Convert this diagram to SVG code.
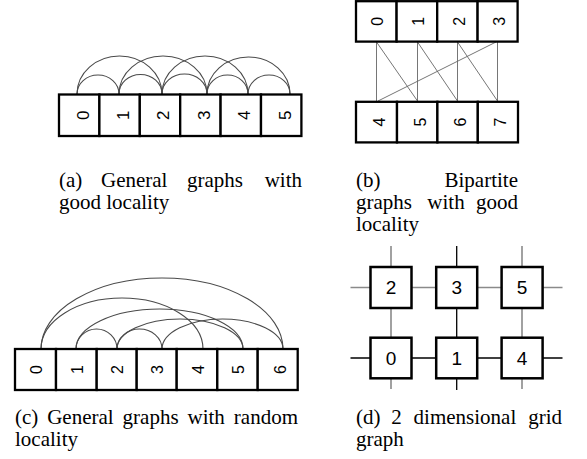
<svg xmlns="http://www.w3.org/2000/svg" width="587" height="459" viewBox="0 0 587 459">
<style>
.box{fill:#fff;stroke:#000;stroke-width:2.3}
.gbox{fill:#fff;stroke:#000;stroke-width:2.5}
.arc{fill:none;stroke:#4a4a4a;stroke-width:1.1}
.bl{fill:none;stroke:#666;stroke-width:0.9}
.gg{stroke:#8a8a8a;stroke-width:1.6}
.gk{stroke:#000;stroke-width:1.3}
.dig{font-family:"Liberation Sans",Arial,sans-serif;text-anchor:middle;fill:#000}
.cap{font-family:"Liberation Serif","Times New Roman",serif;font-size:21px;fill:#000}
</style>
<rect width="587" height="459" fill="#fff"/>

<!-- Panel (a) -->
<g id="edges-a">
<path class="arc" d="M77 94 A21 19 0 0 1 119 94"/>
<path class="arc" d="M119 94 A21.5 19.5 0 0 1 162 94"/>
<path class="arc" d="M162 94 A22.5 20 0 0 1 207 94"/>
<path class="arc" d="M207 94 A20.5 19 0 0 1 248 94"/>
<path class="arc" d="M248 94 A21 19 0 0 1 290 94"/>
<path class="arc" d="M77 94 A42.5 38 0 0 1 162 94"/>
<path class="arc" d="M119 94 A44 38 0 0 1 207 94"/>
<path class="arc" d="M162 94 A43 38 0 0 1 248 94"/>
<path class="arc" d="M207 94 A41.5 37 0 0 1 290 94"/>
</g>
<g id="a-nodes" style="font-size:17px">
<g id="a0"><rect class="box" x="59" y="94.5" width="40.4" height="41.5"/><text class="dig" transform="translate(82.5,115.2) rotate(-90)" y="6">0</text></g>
<g id="a1"><rect class="box" x="99.4" y="94.5" width="40.4" height="41.5"/><text class="dig" transform="translate(123,115.2) rotate(-90)" y="6">1</text></g>
<g id="a2"><rect class="box" x="139.8" y="94.5" width="40.4" height="41.5"/><text class="dig" transform="translate(163.4,115.2) rotate(-90)" y="6">2</text></g>
<g id="a3"><rect class="box" x="180.2" y="94.5" width="40.4" height="41.5"/><text class="dig" transform="translate(203.8,115.2) rotate(-90)" y="6">3</text></g>
<g id="a4"><rect class="box" x="220.6" y="94.5" width="40.4" height="41.5"/><text class="dig" transform="translate(244.2,115.2) rotate(-90)" y="6">4</text></g>
<g id="a5"><rect class="box" x="261" y="94.5" width="40.4" height="41.5"/><text class="dig" transform="translate(284.6,115.2) rotate(-90)" y="6">5</text></g>
</g>
<g id="cap-a" class="cap">
<text x="59" y="187">(a)</text>
<text x="101" y="187">General</text>
<text x="187" y="187">graphs</text>
<text x="302" y="187" text-anchor="end">with</text>
<text x="59" y="209">good locality</text>
</g>

<!-- Panel (b) -->
<g id="edges-b">
<line class="bl" x1="376.5" y1="42" x2="376.5" y2="101"/>
<line class="bl" x1="417.5" y1="42" x2="417.5" y2="101"/>
<line class="bl" x1="457.5" y1="42" x2="457.5" y2="101"/>
<line class="bl" x1="497.5" y1="42" x2="497.5" y2="101"/>
<line class="bl" x1="376.5" y1="42" x2="417.5" y2="101"/>
<line class="bl" x1="417.5" y1="42" x2="457.5" y2="101"/>
<line class="bl" x1="457.5" y1="42" x2="497.5" y2="101"/>
<line class="bl" x1="496" y1="42" x2="378" y2="101"/>
</g>
<g id="b-nodes" style="font-size:16px">
<g id="b0"><rect class="box" x="356" y="1.2" width="40.6" height="40.4"/><text class="dig" transform="translate(377.5,21.4) rotate(-90)" y="5.7">0</text></g>
<g id="b1"><rect class="box" x="396.6" y="1.2" width="40.6" height="40.4"/><text class="dig" transform="translate(418.5,21.4) rotate(-90)" y="5.7">1</text></g>
<g id="b2"><rect class="box" x="437.2" y="1.2" width="40.4" height="40.4"/><text class="dig" transform="translate(458.9,21.4) rotate(-90)" y="5.7">2</text></g>
<g id="b3"><rect class="box" x="477.6" y="1.2" width="40" height="40.4"/><text class="dig" transform="translate(499.2,21.4) rotate(-90)" y="5.7">3</text></g>
<g id="b4"><rect class="box" x="356" y="101.8" width="41" height="40.6"/><text class="dig" transform="translate(379,122.1) rotate(-90)" y="5.7">4</text></g>
<g id="b5"><rect class="box" x="397" y="101.8" width="40.4" height="40.6"/><text class="dig" transform="translate(419.8,122.1) rotate(-90)" y="5.7">5</text></g>
<g id="b6"><rect class="box" x="437.4" y="101.8" width="40.4" height="40.6"/><text class="dig" transform="translate(460,122.1) rotate(-90)" y="5.7">6</text></g>
<g id="b7"><rect class="box" x="477.8" y="101.8" width="40.2" height="40.6"/><text class="dig" transform="translate(500,122.1) rotate(-90)" y="5.7">7</text></g>
</g>
<g id="cap-b" class="cap">
<text x="356" y="187">(b)</text>
<text x="518" y="187" text-anchor="end">Bipartite</text>
<text x="356" y="209">graphs</text>
<text x="427.3" y="209">with</text>
<text x="518" y="209" text-anchor="end">good</text>
<text x="356" y="231">locality</text>
</g>

<!-- Panel (c) -->
<g id="edges-c">
<path class="arc" d="M41 349 A121 71 0 0 1 283 349"/>
<path class="arc" d="M41 349 A81 51 0 0 1 203 349"/>
<path class="arc" d="M76 349 A83.5 40 0 0 1 243 349"/>
<path class="arc" d="M117 349 A63 30 0 0 1 243 349"/>
<path class="arc" d="M162 349 A60.5 30 0 0 1 283 349"/>
<path class="arc" d="M76 349 A20.5 20 0 0 1 117 349"/>
<path class="arc" d="M117 349 A22.5 20 0 0 1 162 349"/>
</g>
<g id="c-nodes" style="font-size:16px">
<g id="c0"><rect class="box" x="15" y="349" width="41" height="41"/><text class="dig" transform="translate(36,369.5) rotate(-90)" y="5.7">0</text></g>
<g id="c1"><rect class="box" x="56" y="349" width="40.7" height="41"/><text class="dig" transform="translate(77,369.5) rotate(-90)" y="5.7">1</text></g>
<g id="c2"><rect class="box" x="96.7" y="349" width="40" height="41"/><text class="dig" transform="translate(117.5,369.5) rotate(-90)" y="5.7">2</text></g>
<g id="c3"><rect class="box" x="136.7" y="349" width="40" height="41"/><text class="dig" transform="translate(157.5,369.5) rotate(-90)" y="5.7">3</text></g>
<g id="c4"><rect class="box" x="176.7" y="349" width="40.6" height="41"/><text class="dig" transform="translate(197.8,369.5) rotate(-90)" y="5.7">4</text></g>
<g id="c5"><rect class="box" x="217.3" y="349" width="40.4" height="41"/><text class="dig" transform="translate(238.5,369.5) rotate(-90)" y="5.7">5</text></g>
<g id="c6"><rect class="box" x="257.7" y="349" width="40" height="41"/><text class="dig" transform="translate(280,369.5) rotate(-90)" y="5.7">6</text></g>
</g>
<g id="cap-c" class="cap">
<text x="15" y="423.5">(c)</text>
<text x="47.2" y="423.5">General</text>
<text x="122.6" y="423.5">graphs</text>
<text x="187.5" y="423.5">with</text>
<text x="298" y="423.5" text-anchor="end">random</text>
<text x="15" y="445.5">locality</text>
</g>

<!-- Panel (d) -->
<g id="edges-d">
<line class="gg" x1="350.5" y1="287.5" x2="562.5" y2="287.5"/>
<line class="gg" x1="391" y1="246" x2="391" y2="389"/>
<line class="gg" x1="522" y1="246" x2="522" y2="389"/>
<line class="gk" x1="350.5" y1="358" x2="562.5" y2="358"/>
<line class="gk" x1="456.7" y1="246" x2="456.7" y2="390"/>
</g>
<g id="d-nodes" style="font-size:19px">
<g id="d2"><rect class="gbox" x="370.5" y="267" width="41" height="41"/><text class="dig" x="391" y="294.3">2</text></g>
<g id="d3"><rect class="gbox" x="436.2" y="267" width="41" height="41"/><text class="dig" x="456.7" y="294.3">3</text></g>
<g id="d5"><rect class="gbox" x="501.6" y="267" width="41" height="41"/><text class="dig" x="522.1" y="294.3">5</text></g>
<g id="d0"><rect class="gbox" x="370.5" y="337.7" width="41" height="40.6"/><text class="dig" x="391" y="364.8">0</text></g>
<g id="d1"><rect class="gbox" x="436.2" y="337.7" width="41" height="40.6"/><text class="dig" x="456.7" y="364.8">1</text></g>
<g id="d4"><rect class="gbox" x="501.6" y="337.7" width="41" height="40.6"/><text class="dig" x="522.1" y="364.8">4</text></g>
</g>
<g id="cap-d" class="cap">
<text x="356" y="423.5">(d)</text>
<text x="391.2" y="423.5">2</text>
<text x="413.6" y="423.5">dimensional</text>
<text x="562" y="423.5" text-anchor="end">grid</text>
<text x="356" y="445.5">graph</text>
</g>
</svg>
